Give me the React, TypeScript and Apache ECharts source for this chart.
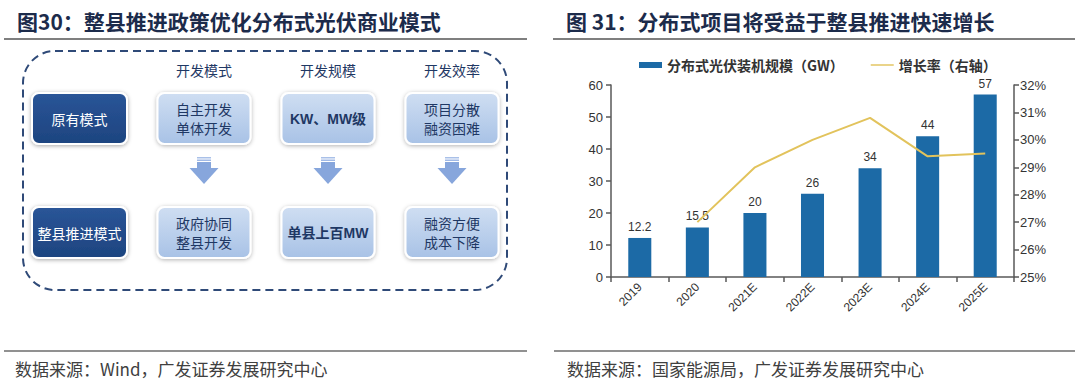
import React, { useEffect, useRef } from "react";
import * as echarts from "echarts";

const categories = ["2019", "2020", "2021E", "2022E", "2023E", "2024E", "2025E"];
const capacityGW = [12.2, 15.5, 20, 26, 34, 44, 57];
const growthPct = [null, 27.0, 29.0, 30.0, 30.8, 29.4, 29.5];

const leftTitle = "图30：整县推进政策优化分布式光伏商业模式";
const rightTitle = "图 31：分布式项目将受益于整县推进快速增长";
const leftSource = "数据来源：Wind，广发证券发展研究中心";
const rightSource = "数据来源：国家能源局，广发证券发展研究中心";

const rowLabels = ["原有模式", "整县推进模式"];
const columnHeaders = ["开发模式", "开发规模", "开发效率"];
const originalModes = ["自主开发\n单体开发", "KW、MW级", "项目分散\n融资困难"];
const countyModes = ["政府协同\n整县开发", "单县上百MW", "融资方便\n成本下降"];

const CJK = "'Noto Sans CJK SC', 'Noto Sans', sans-serif";
const LAT = "'Liberation Sans', Arial, 'Noto Sans CJK SC', sans-serif";

function buildDiagram(): any[] {
  const els: any[] = [];
  // titles
  els.push({
    type: "text", left: 17, top: 10,
    style: { text: leftTitle, font: `bold 21px ${CJK}`, fill: "#1c2b4b" },
  });
  els.push({
    type: "text", left: 566, top: 10,
    style: { text: rightTitle, font: `bold 21px ${CJK}`, fill: "#1c2b4b" },
  });
  // title underlines
  els.push({ type: "line", shape: { x1: 4, y1: 39, x2: 527, y2: 39 }, style: { stroke: "#7f7f7f", lineWidth: 2 } });
  els.push({ type: "line", shape: { x1: 553, y1: 39, x2: 1075, y2: 39 }, style: { stroke: "#7f7f7f", lineWidth: 2 } });
  // footer lines
  els.push({ type: "line", shape: { x1: 4, y1: 351, x2: 527, y2: 351 }, style: { stroke: "#6d6d6d", lineWidth: 1.5 } });
  els.push({ type: "line", shape: { x1: 554, y1: 351, x2: 1075, y2: 351 }, style: { stroke: "#6d6d6d", lineWidth: 1.5 } });
  // sources
  els.push({ type: "text", left: 15, top: 360, style: { text: leftSource, font: `17px ${CJK}`, fill: "#404040" } });
  els.push({ type: "text", left: 567, top: 360, style: { text: rightSource, font: `17px ${CJK}`, fill: "#404040" } });

  // dashed rounded frame
  els.push({
    type: "rect",
    shape: { x: 23, y: 51, width: 484, height: 239, r: 32 },
    style: { fill: "#ffffff", stroke: "#2f4a78", lineWidth: 2, lineDash: [8, 5] },
  });

  const rowY = [93, 207];
  const boxH = 51;
  const darkX = 32, darkW = 95;
  const colCenters = [204, 328, 452];
  const boxW = 93;

  rowLabels.forEach((lab, i) => {
    els.push({
      type: "rect",
      shape: { x: darkX, y: rowY[i], width: darkW, height: boxH, r: 7 },
      style: {
        fill: new echarts.graphic.LinearGradient(0, 0, 0, 1, [
          { offset: 0, color: "#2a5598" },
          { offset: 1, color: "#1d447f" },
        ]),
        stroke: "#ffffff", lineWidth: 2,
        shadowBlur: 4, shadowColor: "rgba(0,0,0,0.35)", shadowOffsetY: 1,
      },
    });
    els.push({
      type: "text", x: darkX + darkW / 2, y: rowY[i] + boxH / 2,
      style: { text: lab, font: `14px ${CJK}`, fill: "#ffffff", align: "center", verticalAlign: "middle" },
    });
  });

  columnHeaders.forEach((h, j) => {
    els.push({
      type: "text", x: colCenters[j], y: 70,
      style: { text: h, font: `14px ${CJK}`, fill: "#1f3864", align: "center", verticalAlign: "middle" },
    });
  });

  const rows = [originalModes, countyModes];
  rows.forEach((row, i) => {
    row.forEach((txt, j) => {
      const x = colCenters[j] - boxW / 2;
      els.push({
        type: "rect",
        shape: { x, y: rowY[i], width: boxW, height: boxH, r: 7 },
        style: {
          fill: new echarts.graphic.LinearGradient(0, 0, 0, 1, [
            { offset: 0, color: "#cfdef2" },
            { offset: 1, color: "#a8c2e6" },
          ]),
          stroke: "#ffffff", lineWidth: 2,
          shadowBlur: 4, shadowColor: "rgba(0,0,0,0.3)", shadowOffsetY: 1,
        },
      });
      const isLatin = /[A-Z]/.test(txt);
      els.push({
        type: "text", x: colCenters[j], y: rowY[i] + boxH / 2,
        style: {
          text: txt,
          font: isLatin ? `bold 14px ${LAT}` : `14px ${CJK}`,
          fill: "#1f3864", align: "center", verticalAlign: "middle", lineHeight: 19,
        },
      });
    });
  });

  // arrows
  colCenters.forEach((cx) => {
    const col = "#87a6dc";
    els.push({ type: "rect", shape: { x: cx - 7, y: 157, width: 14, height: 1.5 }, style: { fill: "#a9c0e8" } });
    els.push({ type: "rect", shape: { x: cx - 7, y: 159.5, width: 14, height: 1.5 }, style: { fill: "#a0b9e6" } });
    els.push({ type: "rect", shape: { x: cx - 7, y: 162, width: 14, height: 7 }, style: { fill: col } });
    els.push({
      type: "polygon",
      shape: { points: [[cx - 14.5, 168], [cx + 14.5, 168], [cx, 184]] },
      style: { fill: col },
    });
  });
  return els;
}

export default function App() {
  const ref = useRef<HTMLDivElement>(null);
  useEffect(() => {
    if (!ref.current) return;
    const chart = echarts.init(ref.current, undefined, { renderer: "svg" });
    const axisLine = { show: true, lineStyle: { color: "#595959", width: 1.5 } };
    chart.setOption({
      animation: false,
      backgroundColor: "#ffffff",
      grid: { left: 611, right: 66, top: 85, bottom: 106, containLabel: false },
      legend: {
        left: 634, top: 53,
        itemWidth: 23, itemHeight: 6, itemGap: 27,
        textStyle: { fontFamily: CJK, fontSize: 14, color: "#333333", fontWeight: "bold" },
        data: [
          { name: "分布式光伏装机规模（GW）", icon: "rect" },
          { name: "增长率（右轴）", icon: "path://M0,0 L48,0 L48,3 L0,3 Z" },
        ],
      },
      xAxis: {
        type: "category",
        data: categories,
        axisLine,
        axisTick: { show: true, length: 5, lineStyle: { color: "#595959", width: 1.5 } },
        axisLabel: { rotate: 45, fontSize: 12, color: "#333333", fontFamily: LAT, margin: 8 },
      },
      yAxis: [
        {
          type: "value", min: 0, max: 60, interval: 10,
          axisLine, axisTick: { show: true, length: 5, lineStyle: { color: "#595959", width: 1.5 } },
          splitLine: { show: false },
          axisLabel: { fontSize: 13, color: "#333333", fontFamily: LAT, margin: 8 },
        },
        {
          type: "value", min: 25, max: 32, interval: 1, position: "right",
          axisLine, axisTick: { show: true, length: 5, lineStyle: { color: "#595959", width: 1.5 } },
          splitLine: { show: false },
          axisLabel: { fontSize: 13, color: "#333333", fontFamily: LAT, margin: 6, formatter: "{value}%" },
        },
      ],
      series: [
        {
          name: "分布式光伏装机规模（GW）",
          type: "bar",
          data: capacityGW,
          barWidth: "40%",
          itemStyle: { color: "#1c6aa6" },
          label: { show: true, position: "top", distance: 5, fontSize: 12, color: "#333333", fontFamily: LAT },
        },
        {
          name: "增长率（右轴）",
          type: "line",
          yAxisIndex: 1,
          data: growthPct,
          symbol: "none",
          lineStyle: { color: "#e2c35c", width: 2 },
          itemStyle: { color: "#e2c35c" },
        },
      ],
      graphic: buildDiagram(),
    });
    return () => chart.dispose();
  }, []);
  return (
    <div
      ref={ref}
      style={{ position: "fixed", left: 0, top: 0, width: 1080, height: 383 }}
    />
  );
}
